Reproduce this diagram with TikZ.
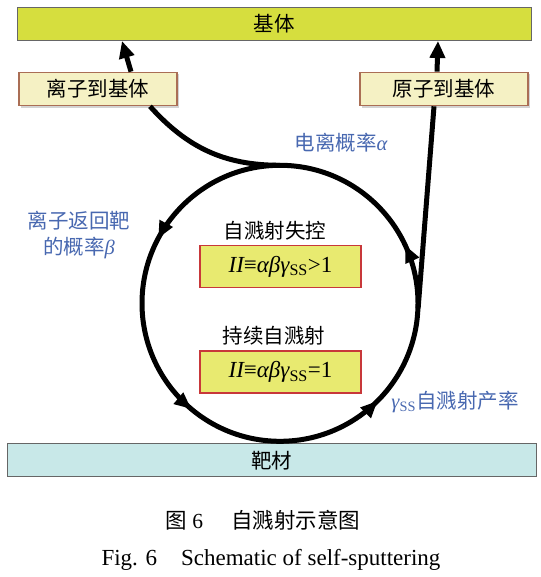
\documentclass[tikz,border=0pt]{standalone}
\usepackage{fontspec}
\setmainfont{Liberation Serif}
\newfontfamily\cjk{Noto Sans CJK SC}
\usetikzlibrary{arrows.meta,shadows,decorations.markings}

\definecolor{verdeamarelo}{RGB}{214,222,62}
\definecolor{creme}{RGB}{245,241,196}
\definecolor{marrom}{RGB}{170,110,85}
\definecolor{ciano}{RGB}{200,232,232}
\definecolor{amarelo}{RGB}{232,234,112}
\definecolor{vermelho}{RGB}{200,56,58}
\definecolor{azul}{RGB}{72,104,176}

\begin{document}
\begin{tikzpicture}[x=1pt,y=1pt]
\tikzstyle{barra}=[draw=black!60, line width=1pt, minimum height=33pt, font=\cjk\fontsize{20.5}{24}\selectfont]
\tikzstyle{caixa}=[draw=marrom, fill=creme, line width=1.2pt, minimum height=33.5pt, drop shadow={shadow xshift=2pt, shadow yshift=-2pt, opacity=0.35}, font=\cjk\fontsize{20.5}{24}\selectfont]
\tikzstyle{formula}=[draw=vermelho, fill=amarelo, line width=1.5pt, minimum width=161pt, minimum height=42pt, font=\fontsize{23}{26}\selectfont]
\tikzstyle{texto}=[font=\cjk\fontsize{20.5}{24}\selectfont]
\tikzstyle{rotulo}=[text=azul, align=center, font=\cjk\fontsize{20.5}{26}\selectfont]
\tikzstyle{linha}=[line width=5pt]
\tikzstyle{seta}=[line width=5pt, -{Triangle[length=17pt, width=15pt]}]
\tikzstyle{laco}=[line width=5pt, postaction={decorate}, decoration={markings,
    mark=at position 0.172 with {\arrow{Triangle[length=17pt, width=14pt]}},
    mark=at position 0.389 with {\arrow{Triangle[length=17pt, width=14pt]}},
    mark=at position 0.625 with {\arrow{Triangle[length=17pt, width=14pt]}},
    mark=at position 0.819 with {\arrow{Triangle[length=17pt, width=14pt]}}}]
\useasboundingbox (0,0) rectangle (540,577);

% barras
\node[barra, fill=verdeamarelo, minimum width=514pt] (base) at (274,553) {基体};
\node[barra, fill=ciano, minimum width=529pt] (alvo) at (271.5,116.5) {靶材};
\node[caixa, minimum width=158pt] (ion) at (98,488) {离子到基体};
\node[caixa, minimum width=168pt] (atomo) at (444,488) {原子到基体};

% ciclo
\node[circle, minimum size=276pt, inner sep=0pt] (ciclo) at (280,273.5) {};
\draw[laco] (ciclo.north) arc[start angle=90, end angle=450, radius=138];

\node[texto] (fuga) at (275,346) {自溅射失控};
\node[formula] (f1) at (280.5,310.5) {{\itshape II}≡{\itshape αβγ}\textsubscript{SS}>1};
\node[texto] (sust) at (274,241) {持续自溅射};
\node[formula] (f2) at (280.5,205) {{\itshape II}≡{\itshape αβγ}\textsubscript{SS}=1};

\node[rotulo] (alfa) at (341,434.5) {电离概率{\rmfamily\itshape α}};
\node[rotulo] (beta) at (79,342) {离子返回靶\\的概率{\rmfamily\itshape β}};
\node[rotulo] (gama) at (455,175) {{\rmfamily\itshape γ}{\rmfamily\textsubscript{SS}}自溅射产率};

% ligacoes
\draw[linha] (ciclo.north) to[out=180, in=-48] ([xshift=52pt]ion.south);
\draw[seta] ([xshift=33pt]ion.north) -- ([xshift=24pt]ion.north |- base.south);
\draw[linha] (ciclo.-2) -- ([xshift=-10pt]atomo.south);
\draw[seta] ([xshift=-7pt]atomo.north) -- ([xshift=-6pt]atomo.north |- base.south);

% legenda
\node[font=\cjk\fontsize{21.5}{24}\selectfont] (legenda) at (263,57) {图\hspace{5pt}{\rmfamily 6}\hspace{28pt}自溅射示意图};
\node[font=\fontsize{23}{26}\selectfont] (legendaen) at (271,17) {Fig. 6\hspace{24pt}Schematic of self-sputtering};
\end{tikzpicture}
\end{document}
